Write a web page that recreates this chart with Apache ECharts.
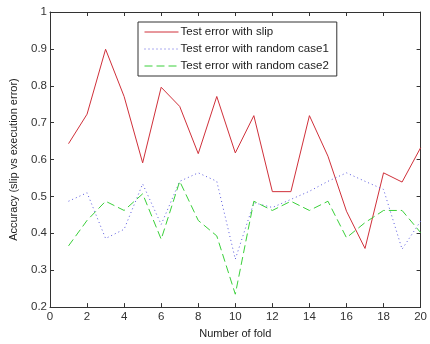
<!DOCTYPE html>
<html>
<head>
<meta charset="utf-8">
<script src="https://cdn.jsdelivr.net/npm/echarts@6/dist/echarts.min.js"></script>
<style>
  html, body { margin: 0; padding: 0; background: #fff; }
  #chart { width: 430px; height: 344px; }
</style>
</head>
<body>
<div id="chart"></div>
<script>
const folds = [1, 2, 3, 4, 5, 6, 7, 8, 9, 10, 11, 12, 13, 14, 15, 16, 17, 18, 19, 20];
const slipErr = [0.643, 0.723, 0.899, 0.771, 0.591, 0.796, 0.744, 0.616, 0.771, 0.618,
                 0.719, 0.513, 0.513, 0.719, 0.609, 0.46, 0.359, 0.564, 0.539, 0.632];
const randomCase1 = [0.487, 0.51, 0.386, 0.411, 0.534, 0.424, 0.541, 0.564, 0.541, 0.33,
                     0.483, 0.47, 0.492, 0.514, 0.541, 0.564, 0.541, 0.519, 0.357, 0.433];
const randomCase2 = [0.366, 0.435, 0.487, 0.462, 0.507, 0.384, 0.541, 0.435, 0.393, 0.235,
                     0.487, 0.462, 0.487, 0.462, 0.487, 0.388, 0.429, 0.462, 0.462, 0.402];
const seriesNames = ['Test error with slip', 'Test error with random case1', 'Test error with random case2'];

const pairs = (ys) => folds.map((x, i) => [x, ys[i]]);
const font = 'Liberation Sans, Arial, sans-serif';

const chart = echarts.init(document.getElementById('chart'));

const baseX = {
    type: 'value', min: 0, max: 20, interval: 2,
    axisLine: { show: true, onZero: false, lineStyle: { color: '#333', width: 1 } },
    axisTick: { show: true, inside: true, length: 4, lineStyle: { color: '#333' } },
    splitLine: { show: false }
};
const baseY = {
    type: 'value', min: 0.2, max: 1, interval: 0.1,
    axisLine: { show: true, onZero: false, lineStyle: { color: '#333', width: 1 } },
    axisTick: { show: true, inside: true, length: 4, lineStyle: { color: '#333' } },
    splitLine: { show: false }
};

chart.setOption({
    animation: false,
    backgroundColor: '#fff',
    textStyle: { fontFamily: font },
    grid: { left: 48, right: 4, top: 12, bottom: 35 },
    legend: {
        data: seriesNames,
        orient: 'vertical',
        left: 138,
        top: 22,
        padding: [4, 8, 4, 6],
        itemGap: 5,
        itemWidth: 34,
        itemHeight: 12,
        borderColor: '#333',
        borderWidth: 1,
        backgroundColor: '#fff',
        itemStyle: { opacity: 0 },
        lineStyle: { width: 1 },
        textStyle: { fontFamily: font, fontSize: 11.5, color: '#222', padding: [0, 0, 0, -3] }
    },
    xAxis: [
        Object.assign({}, baseX, {
            position: 'bottom',
            name: 'Number of fold',
            nameLocation: 'middle',
            nameGap: 18,
            nameTextStyle: { fontSize: 11, color: '#222' },
            axisLabel: { fontSize: 11.5, color: '#333', margin: 4, showMinLabel: true, showMaxLabel: true, hideOverlap: false }
        }),
        Object.assign({}, baseX, { position: 'top', axisLabel: { show: false } })
    ],
    yAxis: [
        Object.assign({}, baseY, {
            position: 'left',
            name: 'Accuracy (slip vs execution error)',
            nameLocation: 'middle',
            nameGap: 31,
            nameTextStyle: { fontSize: 11, color: '#222' },
            axisLabel: {
                fontSize: 11.5, color: '#333', margin: 3,
                showMinLabel: true, showMaxLabel: true, hideOverlap: false,
                formatter: (v) => String(+v.toFixed(1))
            }
        }),
        Object.assign({}, baseY, { position: 'right', axisLabel: { show: false } })
    ],
    series: [
        {
            name: seriesNames[0], type: 'line', data: pairs(slipErr),
            symbol: 'none', color: '#d0303a',
            lineStyle: { width: 1, type: 'solid', color: '#d0303a' }
        },
        {
            name: seriesNames[1], type: 'line', data: pairs(randomCase1),
            symbol: 'none', color: '#5a5ae0',
            lineStyle: { width: 1, type: [1, 3], color: '#5a5ae0' }
        },
        {
            name: seriesNames[2], type: 'line', data: pairs(randomCase2),
            symbol: 'none', color: '#3ad03a',
            lineStyle: { width: 1, type: [8, 4], color: '#3ad03a' }
        }
    ]
});
</script>
</body>
</html>
